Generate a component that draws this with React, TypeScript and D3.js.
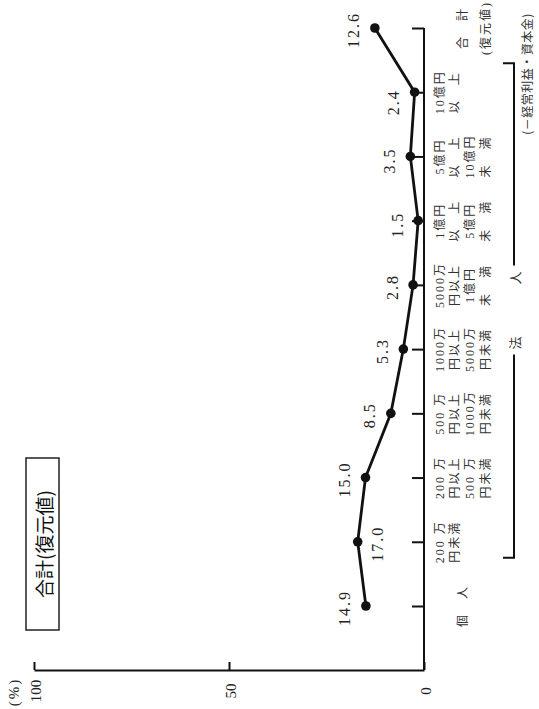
import React from "react";
import * as d3 from "d3";

// categories run from the bottom of the page (個人) to the top (合計)
const categories = [
  "個人",
  "200万円未満",
  "200万円以上500万円未満",
  "500万円以上1000万円未満",
  "1000万円以上5000万円未満",
  "5000万円以上1億円未満",
  "1億円以上5億円未満",
  "5億円以上10億円未満",
  "10億円以上",
  "合計(復元値)",
];
const values = [14.9, 17.0, 15.0, 8.5, 5.3, 2.8, 1.5, 3.5, 2.4, 12.6];
const valueLabels = ["14.9", "17.0", "15.0", "8.5", "5.3", "2.8", "1.5", "3.5", "2.4", "12.6"];
const categoryLines = [
  ["個　人"],
  ["200 万", "円未満"],
  ["200 万", "円以上", "500 万", "円未満"],
  ["500 万", "円以上", "1000万", "円未満"],
  ["1000万", "円以上", "5000万", "円未満"],
  ["5000万", "円以上", "1億円", "未　満"],
  ["1億円", "以　上", "5億円", "未　満"],
  ["5億円", "以　上", "10億円", "未　満"],
  ["10億円", "以　上"],
  ["合　計", "(復元値)"],
];
const valueTicks = [0, 50, 100];
const title = "合計(復元値)";
const groupLabel = "法　　　　人";
const note = "(－経常利益・資本金)";

const serif = "'Liberation Serif', 'DejaVu Serif', 'Noto Sans CJK JP', serif";
const mixed = "'Liberation Serif', 'Noto Sans CJK JP', sans-serif";
const jp = "'Noto Sans CJK JP', sans-serif";

export default function App() {
  const ref = React.useRef<SVGSVGElement>(null);

  React.useEffect(() => {
    drawChart();
  }, []);

  function drawChart() {
    const svg = d3.select(ref.current);
    svg.selectAll("*").remove();

    const axisY = 670;
    const x = d3.scaleLinear().domain([0, 100]).range([424, 34]);
    const y = d3.scalePoint<string>().domain(categories).range([606, 28]);

    // text rotated a quarter turn, reading upwards
    const rotated = (g: any, px: number, py: number, txt: string, size: number, family: string) =>
      g
        .append("text")
        .attr("transform", `translate(${px},${py}) rotate(-90)`)
        .attr("text-anchor", "middle")
        .attr("dominant-baseline", "central")
        .attr("font-size", size)
        .attr("font-family", family)
        .text(txt);

    // value axis (horizontal on the page)
    const xAxis = d3
      .axisBottom(x)
      .tickValues(valueTicks)
      .tickSizeInner(-8)
      .tickSizeOuter(0)
      .tickFormat(() => "");
    const gx = svg.append("g").attr("transform", `translate(0,${axisY})`).call(xAxis);
    gx.selectAll("path, line").attr("stroke", "#111").attr("stroke-width", 2);

    valueTicks.forEach((t) => {
      rotated(svg, x(t) + 2, axisY + 21, String(t), 15, serif).attr("fill", "#222");
    });
    rotated(svg, x(100) - 20, axisY + 22, "(%)", 15, serif).attr("fill", "#222").attr("letter-spacing", 2);

    // category axis (vertical on the page)
    const yAxis = d3
      .axisRight(y)
      .tickSizeInner(-12)
      .tickSizeOuter(0)
      .tickFormat(() => "");
    const gy = svg.append("g").attr("transform", `translate(${x(0)},0)`).call(yAxis);
    gy.select(".domain").remove();
    gy.selectAll("line").attr("stroke", "#111").attr("stroke-width", 2);
    svg
      .append("line")
      .attr("x1", x(0))
      .attr("x2", x(0))
      .attr("y1", y(categories[categories.length - 1])!)
      .attr("y2", axisY)
      .attr("stroke", "#111")
      .attr("stroke-width", 2);

    // series line and points
    const pts = categories.map((c, i) => ({ c, v: values[i], label: valueLabels[i] }));
    const line = d3
      .line<any>()
      .x((d) => x(d.v))
      .y((d) => y(d.c)!);
    svg
      .append("path")
      .datum(pts)
      .attr("d", line)
      .attr("fill", "none")
      .attr("stroke", "#111")
      .attr("stroke-width", 2.8);
    svg
      .selectAll("circle.pt")
      .data(pts)
      .enter()
      .append("circle")
      .attr("class", "pt")
      .attr("cx", (d) => x(d.v))
      .attr("cy", (d) => y(d.c)!)
      .attr("r", 4.8)
      .attr("fill", "#111");

    // value labels, beside each point
    pts.forEach((d, i) => {
      const dx = i === 1 ? 20 : -21;
      const dy = i === 8 ? 10 : i === 7 || i === 6 ? 4 : 2;
      rotated(svg, x(d.v) + dx, y(d.c)! + dy, d.label, 16, serif)
        .attr("letter-spacing", 2)
        .attr("fill", "#222");
    });

    // category labels on the right
    const last = categories.length - 1;
    categoryLines.forEach((lines, i) => {
      const cols = i === 0 ? [1.5] : i === last ? [1.5, 3] : lines.map((_, j) => j);
      lines.forEach((txt, j) => {
        rotated(svg, 440 + cols[j] * 15.2, y(categories[i])!, txt, 12, mixed)
          .attr("letter-spacing", 2)
          .attr("fill", "#333");
      });
    });

    // bracket for 法人
    const top = y(categories[8])! - 29;
    const bottom = y(categories[1])! + 16;
    const bx = 514;
    const mid = (top + bottom) / 2;
    svg
      .append("path")
      .attr("d", `M${bx - 11},${top}H${bx}V${mid - 45}M${bx},${mid + 44}V${bottom}H${bx - 11}`)
      .attr("fill", "none")
      .attr("stroke", "#111")
      .attr("stroke-width", 2);
    rotated(svg, bx, mid, groupLabel, 13, jp).attr("fill", "#333");

    // note on the far right
    rotated(svg, 526, 74, note, 12, jp).attr("fill", "#333").attr("letter-spacing", 0.5);

    // title box
    svg
      .append("rect")
      .attr("x", 26)
      .attr("y", 458)
      .attr("width", 33)
      .attr("height", 172)
      .attr("fill", "none")
      .attr("stroke", "#222")
      .attr("stroke-width", 1.5);
    rotated(svg, 43, 544, title, 19, jp).attr("fill", "#111");
  }

  return (
    <div style={{ position: "absolute", left: 0, top: 0 }}>
      <svg ref={ref} width={539} height={709} style={{ display: "block", background: "#fff" }} />
    </div>
  );
}
